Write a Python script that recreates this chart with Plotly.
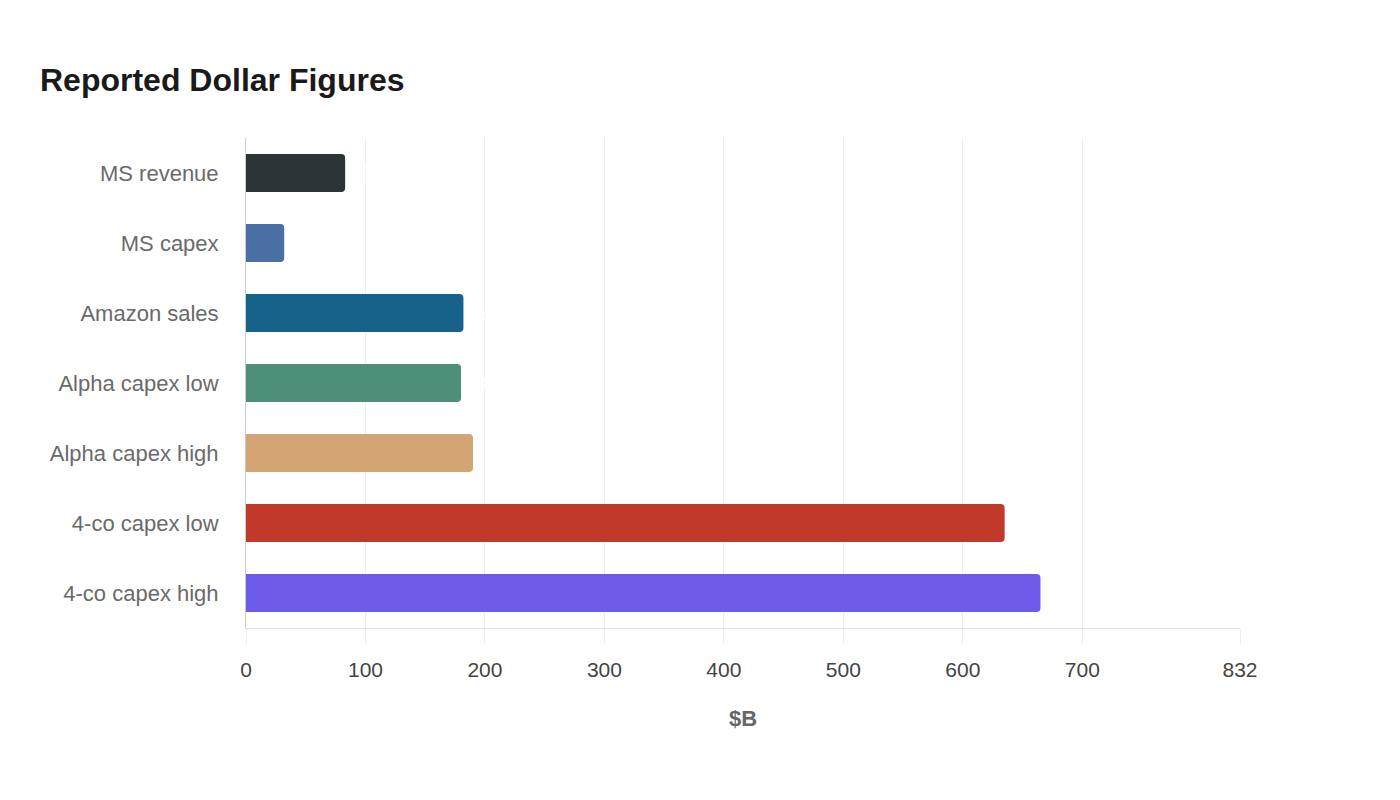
import plotly.graph_objects as go

categories = ["MS revenue", "MS capex", "Amazon sales", "Alpha capex low",
              "Alpha capex high", "4-co capex low", "4-co capex high"]
values = [83, 32, 182, 180, 190, 635, 665]
colors = ["#2d3436", "#4a6fa5", "#16628a", "#4e8f7a", "#d4a574", "#c0392b", "#6c5ce7"]
tick_vals = [0, 100, 200, 300, 400, 500, 600, 700, 832]
tick_text = ["0", "100", "200", "300", "400", "500", "600", "700", "832"]

fig = go.Figure(go.Bar(
    x=values, y=categories, orientation="h",
    marker=dict(color=colors, cornerradius=4, line=dict(width=0)),
    text=[str(v) for v in values], textposition="outside",
    textfont=dict(color="white", size=20, family="Liberation Sans"),
    cliponaxis=False,
))

fig.update_layout(
    width=1400, height=800,
    paper_bgcolor="white", plot_bgcolor="white",
    margin=dict(l=246, r=160, t=138, b=172),
    font=dict(family="Liberation Sans, Arial, sans-serif", color="#666666"),
    title=dict(text="<b>Reported Dollar Figures</b>", x=40/1400, xanchor="left",
               y=1-80/800, yanchor="middle",
               font=dict(size=32, color="#1a1a1a")),
    bargap=0.46,
    showlegend=False,
)
fig.update_xaxes(
    range=[0, 832], tickvals=tick_vals, ticktext=tick_text,
    showgrid=True, gridcolor="#eeeeee", gridwidth=1,
    showline=True, linecolor="#e0e0e0", linewidth=1,
    ticks="outside", ticklen=15, tickcolor="#eeeeee",
    ticklabelstandoff=8,
    tickfont=dict(size=21, color="#444444"),
    zeroline=False,
    title=dict(text="<b>$B</b>", font=dict(size=22, color="#666666"), standoff=30),
)
fig.update_yaxes(
    categoryorder="array", categoryarray=categories, autorange="reversed",
    showgrid=False, showline=True, linecolor="#cccccc", linewidth=1,
    ticks="outside", ticklen=22, tickcolor="rgba(0,0,0,0)",
    tickfont=dict(size=22, color="#6a6a6a"),
)

fig.write_html("out.html")
